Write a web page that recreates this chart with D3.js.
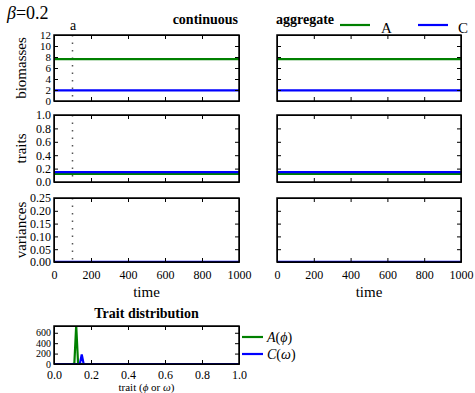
<!DOCTYPE html>
<head>
<meta charset="utf-8">
<style>
body { margin: 0; background: #fff; }
.axis path, .axis line { stroke: #000; }
</style>
</head>
<body>
<script src="https://cdnjs.cloudflare.com/ajax/libs/d3/7.8.5/d3.min.js"></script>
<script>
// time series (flat, model at equilibrium)
var times = [0, 100, 200, 300, 400, 500, 600, 700, 800, 900, 1000];
var biomassA = [7.6, 7.6, 7.6, 7.6, 7.6, 7.6, 7.6, 7.6, 7.6, 7.6, 7.6];
var biomassC = [1.95, 1.95, 1.95, 1.95, 1.95, 1.95, 1.95, 1.95, 1.95, 1.95, 1.95];
var traitA = [0.12, 0.12, 0.12, 0.12, 0.12, 0.12, 0.12, 0.12, 0.12, 0.12, 0.12];
var traitC = [0.148, 0.148, 0.148, 0.148, 0.148, 0.148, 0.148, 0.148, 0.148, 0.148, 0.148];
var varA = [0, 0, 0, 0, 0, 0, 0, 0, 0, 0, 0];
var varC = [0.001, 0.001, 0.001, 0.001, 0.001, 0.001, 0.001, 0.001, 0.001, 0.001, 0.001];

var timeTicks = [0, 200, 400, 600, 800, 1000];
var biomassTicks = [0, 2, 4, 6, 8, 10, 12];
var traitTicks = [0, 0.2, 0.4, 0.6, 0.8, 1.0];
var varTicks = [0, 0.05, 0.10, 0.15, 0.20, 0.25];
var markTime = 100;

// trait distribution (trait, density)
var distA = [[0, 0], [0.10, 0], [0.11, 10], [0.12, 740], [0.13, 20], [0.14, 0], [1, 0]];
var distC = [[0, 0], [0.13, 0], [0.14, 5], [0.15, 185], [0.16, 5], [0.17, 0], [1, 0]];
var distXTicks = [0, 0.2, 0.4, 0.6, 0.8, 1.0];
var distYTicks = [0, 200, 400, 600];

var green = "#008000", blue = "#0000ff";

var svg = d3.select("body").append("svg")
  .attr("width", 475)
  .attr("height", 393);

var cols = [{x0: 54, x1: 239, name: "continuous"}, {x0: 277, x1: 461, name: "aggregate"}];
var rows = [
  {y0: 35, y1: 101, dom: [0, 12], ticks: biomassTicks, fmt: d3.format("d"), fs: 11, label: "biomasses", A: biomassA, C: biomassC},
  {y0: 115, y1: 182, dom: [0, 1], ticks: traitTicks, fmt: d3.format(".1f"), fs: 12, label: "traits", A: traitA, C: traitC},
  {y0: 198, y1: 262, dom: [0, 0.25], ticks: varTicks, fmt: d3.format(".2f"), fs: 12, label: "variances", A: varA, C: varC}
];

function frame(g, x, y, xt, yt, showX, showY, xfmt, yfmt, ysize, xpad) {
  var w = x.range()[1] - x.range()[0], h = y.range()[0] - y.range()[1];
  var bx = g.append("g").attr("class", "axis").attr("transform", "translate(0," + y.range()[0] + ")")
    .call(d3.axisBottom(x).tickValues(xt).tickSizeInner(-4).tickSizeOuter(0).tickPadding(xpad || 8)
      .tickFormat(showX ? xfmt : ""));
  bx.selectAll("text").style("font-size", "12px");
  g.append("g").attr("class", "axis").attr("transform", "translate(0," + y.range()[1] + ")")
    .call(d3.axisTop(x).tickValues(xt).tickSizeInner(-4).tickSizeOuter(0).tickFormat(""));
  var ly = g.append("g").attr("class", "axis").attr("transform", "translate(" + x.range()[0] + ",0)")
    .call(d3.axisLeft(y).tickValues(yt).tickSizeInner(-4).tickSizeOuter(0).tickPadding(3)
      .tickFormat(showY ? yfmt : ""));
  ly.selectAll("text").style("font-size", (ysize || 12) + "px");
  g.append("g").attr("class", "axis").attr("transform", "translate(" + x.range()[1] + ",0)")
    .call(d3.axisRight(y).tickValues(yt).tickSizeInner(-4).tickSizeOuter(0).tickFormat(""));
  g.append("rect").attr("x", x.range()[0]).attr("y", y.range()[1])
    .attr("width", w).attr("height", h)
    .attr("fill", "none").attr("stroke", "#000").attr("stroke-width", 1.5);
}

cols.forEach(function(c, ci) {
  var x = d3.scaleLinear().domain([0, 1000]).range([c.x0, c.x1]);
  rows.forEach(function(r, ri) {
    var y = d3.scaleLinear().domain(r.dom).range([r.y1, r.y0]);
    var g = svg.append("g");
    var clipId = "clip" + ci + ri;
    g.append("clipPath").attr("id", clipId).append("rect")
      .attr("x", c.x0).attr("y", r.y0 - 2).attr("width", c.x1 - c.x0).attr("height", r.y1 - r.y0 + 4);
    var line = d3.line().x(function(d, i) { return x(times[i]); }).y(function(d) { return y(d); });
    if (ci == 0) {
      g.append("line").attr("x1", x(markTime)).attr("x2", x(markTime))
        .attr("y1", r.y0).attr("y2", r.y1)
        .attr("stroke", "#555").attr("stroke-width", 1.5).attr("stroke-dasharray", "1.5,6");
    }
    g.append("path").datum(r.A).attr("d", line).attr("fill", "none")
      .attr("stroke", green).attr("stroke-width", 2.2).attr("clip-path", "url(#" + clipId + ")");
    g.append("path").datum(r.C).attr("d", line).attr("fill", "none")
      .attr("stroke", blue).attr("stroke-width", 2.2).attr("clip-path", "url(#" + clipId + ")");
    frame(g, x, y, timeTicks, r.ticks, ri == 2, ci == 0, d3.format("d"), r.fmt, r.fs);
    if (ci == 0) {
      svg.append("text").attr("transform", "translate(26," + ((r.y0 + r.y1) / 2) + ") rotate(-90)")
        .attr("text-anchor", "middle").attr("font-size", 15).text(r.label);
    }
  });
  svg.append("text").attr("x", (c.x0 + c.x1) / 2).attr("y", 297)
    .attr("text-anchor", "middle").attr("font-size", 15).text("time");
});

// titles
svg.append("text").attr("x", 238).attr("y", 24).attr("text-anchor", "end")
  .attr("font-size", 14).attr("font-weight", "bold").text("continuous");
svg.append("text").attr("x", 276).attr("y", 24).attr("text-anchor", "start")
  .attr("font-size", 14).attr("font-weight", "bold").text("aggregate");
svg.append("text").attr("x", 73).attr("y", 30).attr("text-anchor", "middle")
  .attr("font-size", 14).text("a");
var bt = svg.append("text").attr("x", 7).attr("y", 19).attr("font-size", 18);
bt.append("tspan").attr("font-style", "italic").text("β");
bt.append("tspan").text("=0.2");

// top legend
svg.append("line").attr("x1", 340).attr("x2", 370).attr("y1", 25).attr("y2", 25)
  .attr("stroke", green).attr("stroke-width", 2.2);
svg.append("text").attr("x", 381).attr("y", 33).attr("font-size", 15).text("A");
svg.append("line").attr("x1", 418).attr("x2", 448).attr("y1", 25).attr("y2", 25)
  .attr("stroke", blue).attr("stroke-width", 2.2);
svg.append("text").attr("x", 458).attr("y", 33).attr("font-size", 15).text("C");

// trait distribution
var dx = d3.scaleLinear().domain([0, 1]).range([54, 239]);
var dy = d3.scaleLinear().domain([0, 730]).range([364, 326]);
var dg = svg.append("g");
dg.append("clipPath").attr("id", "clipd").append("rect")
  .attr("x", 54).attr("y", 326).attr("width", 185).attr("height", 40);
var dline = d3.line().x(function(d) { return dx(d[0]); }).y(function(d) { return dy(d[1]); });
dg.append("path").datum(distA).attr("d", dline).attr("fill", "none")
  .attr("stroke", green).attr("stroke-width", 2.2).attr("clip-path", "url(#clipd)");
dg.append("path").datum(distC).attr("d", dline).attr("fill", "none")
  .attr("stroke", blue).attr("stroke-width", 2.2).attr("clip-path", "url(#clipd)");
frame(dg, dx, dy, distXTicks, distYTicks, true, true, d3.format(".1f"), d3.format("d"), 10, 6);
svg.append("text").attr("x", 146.5).attr("y", 318).attr("text-anchor", "middle")
  .attr("font-size", 14).attr("font-weight", "bold").text("Trait distribution");
var xl = svg.append("text").attr("x", 146.5).attr("y", 391).attr("text-anchor", "middle").attr("font-size", 11);
xl.append("tspan").text("trait (");
xl.append("tspan").attr("font-style", "italic").text("ϕ");
xl.append("tspan").text(" or ");
xl.append("tspan").attr("font-style", "italic").text("ω");
xl.append("tspan").text(")");

// distribution legend
svg.append("line").attr("x1", 242).attr("x2", 263).attr("y1", 337).attr("y2", 337)
  .attr("stroke", green).attr("stroke-width", 2.2);
var la = svg.append("text").attr("x", 267).attr("y", 342).attr("font-size", 14).attr("font-style", "italic");
la.append("tspan").text("A");
la.append("tspan").attr("font-style", "normal").text("(");
la.append("tspan").text("ϕ");
la.append("tspan").attr("font-style", "normal").text(")");
svg.append("line").attr("x1", 242).attr("x2", 263).attr("y1", 354).attr("y2", 354)
  .attr("stroke", blue).attr("stroke-width", 2.2);
var lc = svg.append("text").attr("x", 267).attr("y", 359).attr("font-size", 14).attr("font-style", "italic");
lc.append("tspan").text("C");
lc.append("tspan").attr("font-style", "normal").text("(");
lc.append("tspan").text("ω");
lc.append("tspan").attr("font-style", "normal").text(")");

// serif everywhere
svg.selectAll("text").style("font-family", "'Liberation Serif'").style("fill", "#000");
</script>
</body>
